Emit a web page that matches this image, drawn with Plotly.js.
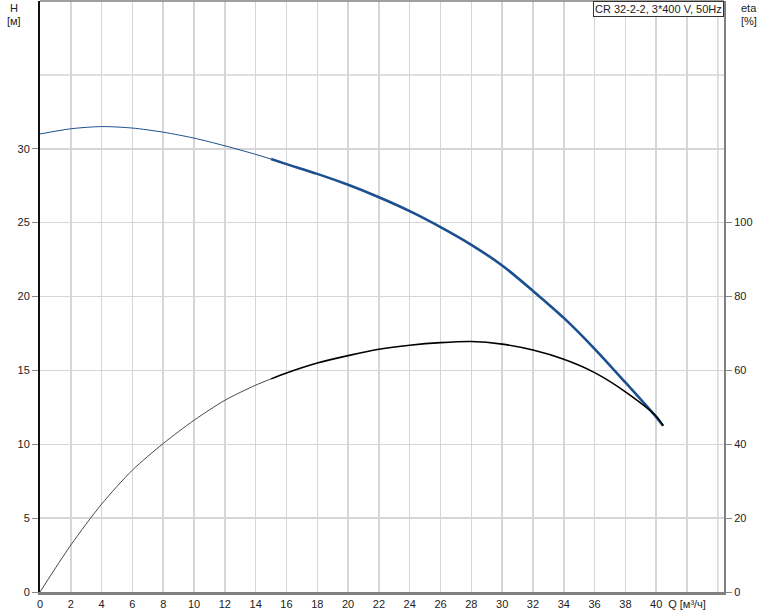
<!DOCTYPE html>
<html>
<head>
<meta charset="utf-8">
<script src="https://cdn.plot.ly/plotly-3.0.1.min.js"></script>
<style>html,body{margin:0;padding:0;background:#fff;}#chart{width:774px;height:611px;}</style>
</head>
<body>
<div id="chart"></div>
<script>
// Flow Q [m3/h]
var qH = [0, 2, 4, 6, 8, 10, 12, 14, 15, 16, 18, 20, 22, 24, 26, 28, 30, 32, 34, 36, 38, 40, 40.45];
// Head H [m]
var headH = [31.0, 31.35, 31.5, 31.4, 31.12, 30.72, 30.2, 29.62, 29.3, 28.96, 28.3, 27.56, 26.72, 25.78, 24.7, 23.5, 22.1, 20.38, 18.55, 16.46, 14.18, 11.84, 11.25];
// Efficiency eta [%]
var qEta = [0, 2, 4, 6, 8, 10, 12, 14, 15, 16, 18, 20, 22, 24, 26, 28, 30, 32, 34, 36, 38, 40, 40.45];
var eta = [0, 12.7, 23.8, 33.0, 40.2, 46.5, 51.9, 56.0, 57.7, 59.3, 62.0, 64.0, 65.7, 66.8, 67.5, 67.8, 67.1, 65.5, 63.0, 59.4, 54.2, 47.6, 45.0];
// Split point between thin and thick segments
var qSplit = 15;

var xTickVals = [0,2,4,6,8,10,12,14,16,18,20,22,24,26,28,30,32,34,36,38,40,42];
var xTickText = ["0","2","4","6","8","10","12","14","16","18","20","22","24","26","28","30","32","34","36","38","40","Q [м³/ч]"];
var yTickVals = [0,5,10,15,20,25,30];
var y2TickVals = [0,20,40,60,80,100];
var title = "CR 32-2-2, 3*400 V, 50Hz";

function part(xs, ys, lo, hi){
  var a=[], b=[];
  for (var i=0;i<xs.length;i++){ if (xs[i]>=lo && xs[i]<=hi){a.push(xs[i]); b.push(ys[i]);} }
  return [a,b];
}
var hThin = part(qH, headH, 0, qSplit), hThick = part(qH, headH, qSplit, 1e9);
var eThin = part(qEta, eta, 0, qSplit), eThick = part(qEta, eta, qSplit, 1e9);

var blue = "#1b4f8f";
var sm = 0.8;
var traces = [
  {x:eThin[0], y:eThin[1], yaxis:'y2', mode:'lines', line:{color:'#333', width:0.9, shape:'spline', smoothing:sm}, hoverinfo:'skip'},
  {x:eThick[0], y:eThick[1], yaxis:'y2', mode:'lines', line:{color:'#000', width:1.6, shape:'spline', smoothing:sm}, hoverinfo:'skip'},
  {x:hThin[0], y:hThin[1], mode:'lines', line:{color:blue, width:1, shape:'spline', smoothing:sm}, hoverinfo:'skip'},
  {x:hThick[0], y:hThick[1], mode:'lines', line:{color:blue, width:2.6, shape:'spline', smoothing:sm}, hoverinfo:'skip'}
];

var font = {family:'"Liberation Sans", Arial, sans-serif', size:11, color:'#222'};
var gridC = '#d4d6d9';
var layout = {
  width:774, height:611,
  margin:{l:40, r:50, t:1, b:19, pad:0},
  paper_bgcolor:'#fff', plot_bgcolor:'#fff',
  showlegend:false,
  font:font,
  xaxis:{range:[0,44.4], tickmode:'array', tickvals:xTickVals, ticktext:xTickText,
         showgrid:true, gridcolor:gridC, gridwidth:1.5, zeroline:false,
         showline:true, linecolor:'#808080', linewidth:3, ticks:'', ticklen:0,
         tickfont:font, mirror:false, fixedrange:true},
  yaxis:{range:[0,40], tickmode:'array', tickvals:yTickVals,
         showgrid:true, gridcolor:gridC, gridwidth:1.5, zeroline:false,
         showline:true, linecolor:'#111', linewidth:2, ticks:'outside', ticklen:6, tickcolor:'#888',
         tickfont:font, fixedrange:true},
  yaxis2:{range:[0,160], overlaying:'y', side:'right', tickmode:'array', tickvals:y2TickVals,
          showgrid:false, zeroline:false, showline:true, linecolor:'#808080', linewidth:2,
          ticks:'outside', ticklen:6, tickcolor:'#888', tickfont:font, fixedrange:true},
  shapes:[
    {type:'line', xref:'paper', yref:'y', x0:0, x1:1, y0:35, y1:35, line:{color:gridC, width:1.5}, layer:'below'},
    {type:'line', xref:'x', yref:'paper', x0:44, x1:44, y0:0, y1:1, line:{color:gridC, width:1.5}, layer:'below'},
    {type:'line', xref:'paper', yref:'paper', x0:0, x1:1, y0:1, y1:1, line:{color:'#808080', width:1.5}}
  ],
  annotations:[
    {xref:'paper', yref:'paper', x:-0.038, y:0.988, text:'H', showarrow:false, font:font, xanchor:'center', yanchor:'middle'},
    {xref:'paper', yref:'paper', x:-0.038, y:0.967, text:'[м]', showarrow:false, font:font, xanchor:'center', yanchor:'middle'},
    {xref:'paper', yref:'paper', x:1.0365, y:0.988, text:'eta', showarrow:false, font:font, xanchor:'center', yanchor:'middle'},
    {xref:'paper', yref:'paper', x:1.0365, y:0.967, text:'[%]', showarrow:false, font:font, xanchor:'center', yanchor:'middle'},
    {xref:'paper', yref:'paper', x:1.0, y:1.0, text:title, showarrow:false, font:font, xanchor:'right', yanchor:'top',
     bordercolor:'#333', borderwidth:1, borderpad:1, bgcolor:'#fff'}
  ]
};
Plotly.newPlot('chart', traces, layout, {staticPlot:true, displayModeBar:false});
</script>
</body>
</html>
